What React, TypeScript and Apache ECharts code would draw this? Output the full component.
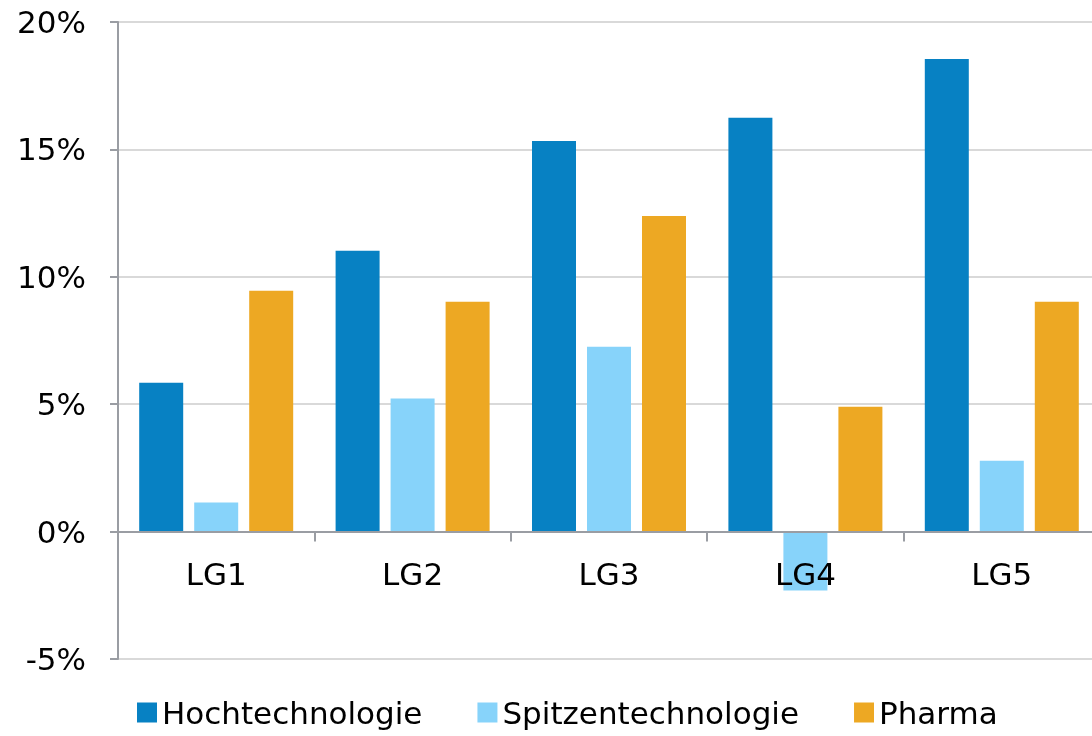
import React, { useEffect, useRef } from "react";
import * as echarts from "echarts";

const categories = ["LG1", "LG2", "LG3", "LG4", "LG5"];
const hochtechnologie = [5.84, 11.02, 15.33, 16.24, 18.55];
const spitzentechnologie = [1.14, 5.22, 7.25, -2.31, 2.78];
const pharma = [9.45, 9.02, 12.39, 4.9, 9.02];
const yTicks = { min: -5, max: 20, interval: 5 };

const FONT = "DejaVu Sans";

export default function App() {
  const ref = useRef<HTMLDivElement>(null);
  useEffect(() => {
    if (!ref.current) return;
    const chart = echarts.init(ref.current, undefined, { renderer: "svg" });
    chart.setOption({
      animation: false,
      textStyle: { fontFamily: FONT },
      grid: { left: 118, right: 0, top: 22, bottom: 77, containLabel: false },
      legend: {
        top: 697,
        left: 137,
        padding: 0,
        itemWidth: 20,
        itemHeight: 20,
        itemGap: 55,
        icon: "rect",
        textStyle: { fontFamily: FONT, fontSize: 31, color: "#000" },
        data: ["Hochtechnologie", "Spitzentechnologie", "Pharma"],
      },
      xAxis: {
        type: "category",
        data: categories,
        axisLine: { onZero: true, lineStyle: { color: "#9a9da3", width: 2 } },
        axisTick: { show: true, length: 10, lineStyle: { color: "#9a9da3", width: 2 } },
        axisLabel: { fontFamily: FONT, fontSize: 31, color: "#000", margin: -101 },
        splitLine: { show: false },
        z: 5,
      },
      yAxis: {
        type: "value",
        min: yTicks.min,
        max: yTicks.max,
        interval: yTicks.interval,
        axisLine: { show: true, lineStyle: { color: "#9a9da3", width: 2 } },
        axisTick: { show: true, length: 8, lineStyle: { color: "#9a9da3", width: 2 } },
        axisLabel: {
          fontFamily: FONT,
          fontSize: 31,
          color: "#000",
          margin: 32,
          formatter: (v: number) => `${v}%`,
        },
        splitLine: { show: true, lineStyle: { color: "#d9d9d9", width: 2 } },
      },
      series: [
        { name: "Hochtechnologie", type: "bar", data: hochtechnologie, barWidth: 44, barGap: "25%", itemStyle: { color: "#0781C3" } },
        { name: "Spitzentechnologie", type: "bar", data: spitzentechnologie, barWidth: 44, barGap: "25%", itemStyle: { color: "#87D3FA" } },
        { name: "Pharma", type: "bar", data: pharma, barWidth: 44, barGap: "25%", itemStyle: { color: "#EDA823" } },
      ],
    });
    return () => chart.dispose();
  }, []);
  return (
    <div style={{ width: 1092, height: 736, position: "fixed", left: 0, top: 0, overflow: "hidden" }}>
      <div ref={ref} style={{ width: 1100, height: 736 }} />
    </div>
  );
}
